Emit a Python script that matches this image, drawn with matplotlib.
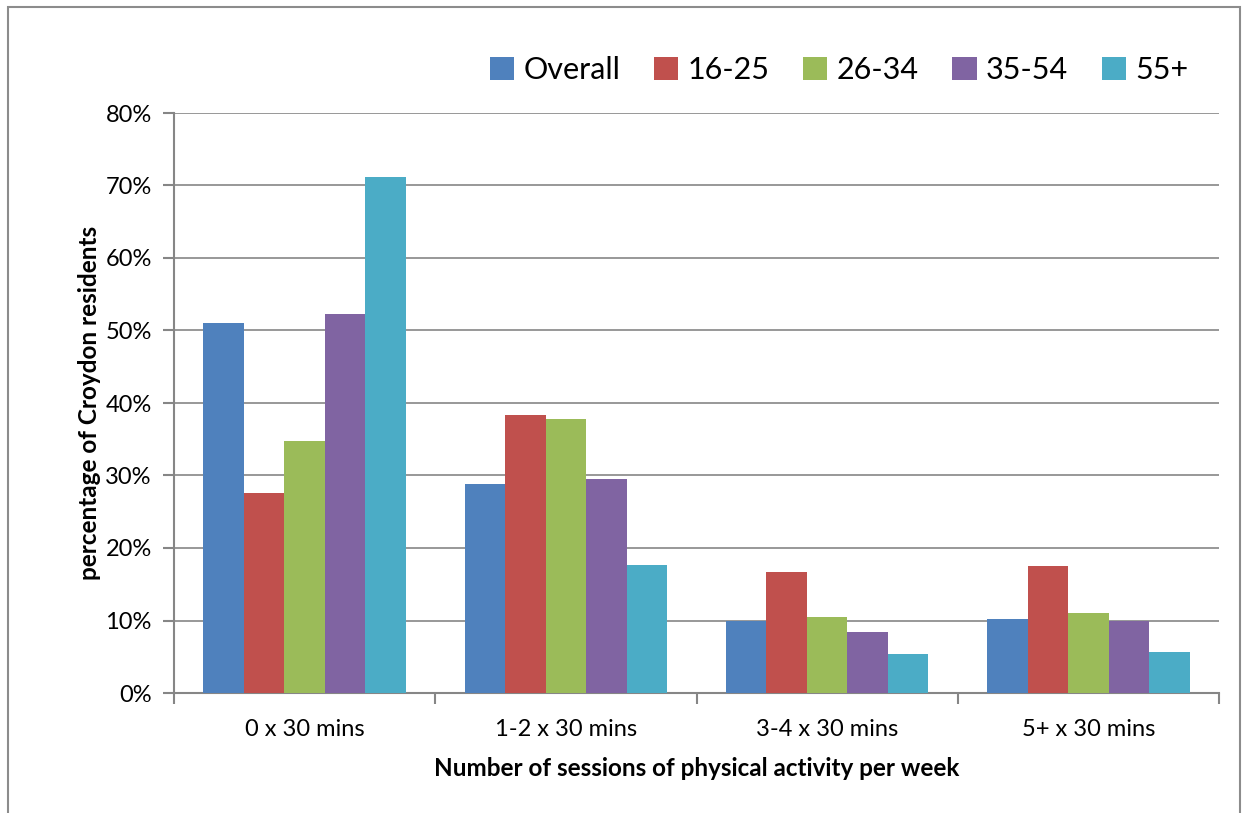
import numpy as np
import matplotlib.pyplot as plt
from matplotlib.patches import Rectangle
from matplotlib.ticker import FuncFormatter, MultipleLocator

categories = ['0 x 30 mins', '1-2 x 30 mins', '3-4 x 30 mins', '5+ x 30 mins']
series_names = ['Overall', '16-25', '26-34', '35-54', '55+']
overall = [51.0, 28.8, 9.9, 10.2]
age_16_25 = [27.6, 38.3, 16.7, 17.5]
age_26_34 = [34.8, 37.8, 10.5, 11.0]
age_35_54 = [52.3, 29.5, 8.4, 9.9]
age_55_plus = [71.2, 17.7, 5.4, 5.7]

series = [overall, age_16_25, age_26_34, age_35_54, age_55_plus]
colors = ['#4F81BD', '#C0504D', '#9BBB59', '#8064A2', '#4BACC6']

plt.rcParams['font.family'] = ['Lato', 'DejaVu Sans']

fig = plt.figure(figsize=(12.55, 8.13), dpi=100)
ax = fig.add_axes([174 / 1255, 1 - 693 / 813, 1045 / 1255, 580 / 813])

# outer chart frame
fig.patches.append(Rectangle((8 / 1255, -0.01), 1232 / 1255, 1 - 7 / 813 + 0.01,
                             transform=fig.transFigure, fill=False,
                             edgecolor='#8c8c8c', linewidth=1.5))

x = np.arange(len(categories))
w = 0.155
for i, (vals, name, c) in enumerate(zip(series, series_names, colors)):
    ax.bar(x + (i - 2) * w, vals, width=w, color=c, label=name, zorder=3)

ax.set_xlim(-0.5, len(categories) - 0.5)
ax.set_ylim(0, 80)
ax.yaxis.set_major_locator(MultipleLocator(10))
ax.yaxis.set_major_formatter(FuncFormatter(lambda v, p: f'{v:.0f}%'))
ax.grid(axis='y', color='#868686', linewidth=1.2, zorder=0)

ax.set_xticks(x)
ax.set_xticklabels(categories, fontsize=17)
ax.set_xticks(np.arange(len(categories) + 1) - 0.5, minor=True)
ax.tick_params(axis='x', which='major', length=0, pad=19)
ax.tick_params(axis='x', which='minor', length=8, width=1.5, color='#868686')
ax.tick_params(axis='y', length=8, width=1.5, color='#868686', labelsize=17, pad=8)

for s in ['top', 'right']:
    ax.spines[s].set_visible(False)
for s in ['left', 'bottom']:
    ax.spines[s].set_color('#868686')
    ax.spines[s].set_linewidth(1.5)

ax.set_xlabel('Number of sessions of physical activity per week', fontsize=17.5,
              fontweight='bold', labelpad=12)
ax.set_ylabel('percentage of Croydon residents', fontsize=17.5, fontweight='bold', labelpad=3)

fig.legend(loc='center', bbox_to_anchor=(839 / 1255, 1 - 70 / 813), ncol=5, frameon=False,
           fontsize=22, handlelength=0.8, handleheight=0.8, handletextpad=0.3,
           columnspacing=1.1)

fig.savefig('out.png', dpi=100)
